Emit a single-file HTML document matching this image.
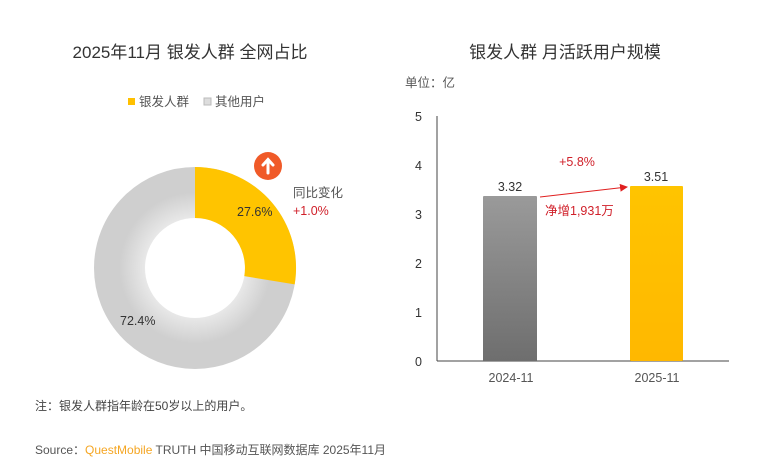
<!DOCTYPE html>
<html><head><meta charset="utf-8"><style>
body{margin:0;background:#fff;}
svg{display:block;font-family:"Liberation Sans","Noto Sans CJK SC",sans-serif;}
</style></head><body>
<svg width="766" height="469" viewBox="0 0 766 469">
<defs>
<linearGradient id="g1" x1="0" y1="0" x2="0" y2="1"><stop offset="0" stop-color="#9a9a9a"/><stop offset="1" stop-color="#6e6e6e"/></linearGradient>
<linearGradient id="g2" x1="0" y1="0" x2="0" y2="1"><stop offset="0" stop-color="#ffc400"/><stop offset="1" stop-color="#ffb800"/></linearGradient>
<radialGradient id="gr" cx="0.5" cy="0.5" r="0.5"><stop offset="0.5" stop-color="#f4f4f4"/><stop offset="1" stop-color="#cfcfcf"/></radialGradient>
<marker id="ar" markerWidth="8" markerHeight="8" refX="7" refY="4" orient="auto"><path d="M0,0 L8,4 L0,8 z" fill="#e02020"/></marker>
</defs>
<text x="190" y="58" font-size="17" fill="#333" text-anchor="middle">2025年11月 银发人群 全网占比</text>
<rect x="128" y="98" width="7" height="7" fill="#ffc000"/>
<text x="139" y="106" font-size="12.5" fill="#555">银发人群</text>
<rect x="204" y="98" width="7" height="7" fill="#ddd" stroke="#bbb" stroke-width="1"/>
<text x="215" y="106" font-size="12.5" fill="#555">其他用户</text>
<circle cx="195" cy="268" r="75.5" fill="none" stroke="url(#gr)" stroke-width="51"/>
<path d="M195,167 A101,101 0 0 1 294.7,284.4 L244.3,276.1 A50,50 0 0 0 195,218 Z" fill="#ffc400"/>
<text x="237" y="216" font-size="12.5" fill="#333">27.6%</text>
<text x="120" y="325" font-size="12.5" fill="#333">72.4%</text>
<circle cx="268" cy="166" r="14" fill="#f05a28"/>
<path d="M268,173 V160 M263,165 L268,159.5 L273,165" stroke="#fff" stroke-width="3" fill="none" stroke-linecap="round"/>
<text x="293" y="197" font-size="12.5" fill="#555">同比变化</text>
<text x="293" y="215" font-size="12.5" fill="#d0202a">+1.0%</text>
<text x="565" y="58" font-size="17" fill="#333" text-anchor="middle">银发人群 月活跃用户规模</text>
<text x="405" y="87" font-size="12.5" fill="#555">单位：亿</text>
<g font-size="12.5" fill="#333" text-anchor="end">
<text x="422" y="121">5</text><text x="422" y="170">4</text><text x="422" y="219">3</text><text x="422" y="268">2</text><text x="422" y="317">1</text><text x="422" y="366">0</text>
</g>
<line x1="437" y1="116" x2="437" y2="361" stroke="#444" stroke-width="1"/>
<line x1="437" y1="361" x2="729" y2="361" stroke="#444" stroke-width="1"/>
<rect x="483" y="196" width="54" height="165" fill="url(#g1)" rx="1"/>
<rect x="630" y="186" width="53" height="175" fill="url(#g2)" rx="1"/>
<text x="510" y="191" font-size="12.5" fill="#333" text-anchor="middle">3.32</text>
<text x="656" y="181" font-size="12.5" fill="#333" text-anchor="middle">3.51</text>
<line x1="540" y1="197" x2="627" y2="187" stroke="#e02020" stroke-width="1" marker-end="url(#ar)"/>
<text x="577" y="166" font-size="12.5" fill="#d0202a" text-anchor="middle">+5.8%</text>
<text x="545" y="215" font-size="12.5" fill="#d0202a">净增1,931万</text>
<text x="511" y="382" font-size="12.5" fill="#555" text-anchor="middle">2024-11</text>
<text x="657" y="382" font-size="12.5" fill="#555" text-anchor="middle">2025-11</text>
<text x="35" y="410" font-size="12" fill="#444">注：银发人群指年龄在50岁以上的用户。</text>
<text x="35" y="454" font-size="12" fill="#555">Source：<tspan fill="#f5a623">QuestMobile</tspan> TRUTH 中国移动互联网数据库 2025年11月</text>
</svg>
</body></html>
